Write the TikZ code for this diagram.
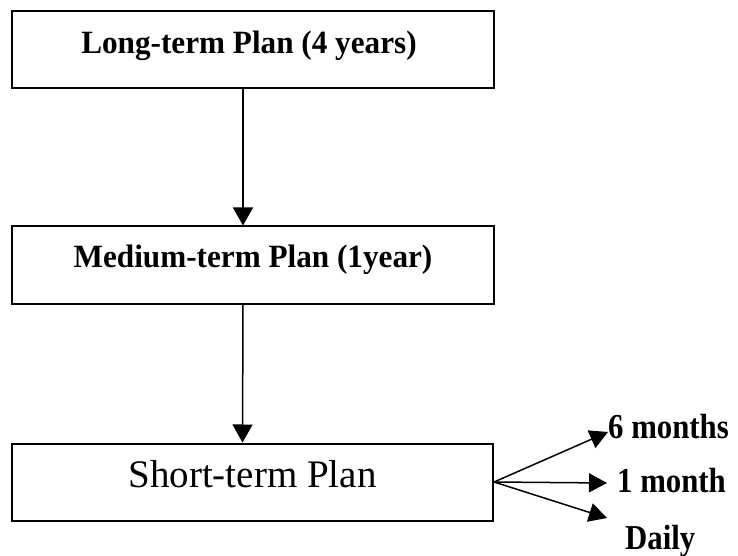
\documentclass[tikz,border=0pt]{standalone}
\usepackage{fontspec}
\setmainfont{Liberation Serif}
\usetikzlibrary{arrows.meta}

\begin{document}
\begin{tikzpicture}[x=1bp,y=-1bp,
  planbox/.style={draw,line width=2bp,rectangle,inner sep=0pt,
    minimum width=481bp,minimum height=77bp},
  boldlabel/.style={inner sep=0pt,anchor=base,xscale=0.96,
    font=\fontsize{32.5bp}{36bp}\selectfont\bfseries},
  plainlabel/.style={inner sep=0pt,anchor=base,
    font=\fontsize{39bp}{44bp}\selectfont},
  steplabel/.style={inner sep=0pt,anchor=base west,xscale=0.88,
    font=\fontsize{35bp}{40bp}\selectfont\bfseries},
  flow/.style={line width=1.5bp,-{Triangle[width=20bp,length=18bp]}},
  branch/.style={line width=1.5bp,-{Triangle[width=19bp,length=18bp]}}]
\useasboundingbox (0,0) rectangle (738,556);

% plan boxes
\node[planbox] (long)   at (253,50)    {};
\node[planbox] (medium) at (253,265)   {};
\node[planbox] (short)  at (252.5,482) {};

% box titles
\node[boldlabel]  (longtxt)   at (249,54)  {Long-term Plan (4 years)};
\node[boldlabel]  (mediumtxt) at (253,268) {Medium-term Plan (1year)};
\node[plainlabel] (shorttxt)  at (252.5,487) {Short-term Plan};

% vertical flow
\draw[flow] ([xshift=-10bp]long.south) -- ([xshift=-10bp]medium.north);
\draw[flow] ([xshift=-10bp]medium.south) -- ([xshift=-10bp]short.north);

% short-term breakdown
\coordinate (tipsix)   at (608,432);
\coordinate (tipone)   at (607,483);
\coordinate (tipdaily) at (607,518);
\draw[branch] (short.east) -- (tipsix);
\draw[branch] (short.east) -- (tipone);
\draw[branch] (short.east) -- (tipdaily);

\node[steplabel] (six)   at (608,438) {6 months};
\node[steplabel] (one)   at (617,492) {1 month};
\node[steplabel] (daily) at (625,549) {Daily};
\end{tikzpicture}
\end{document}
